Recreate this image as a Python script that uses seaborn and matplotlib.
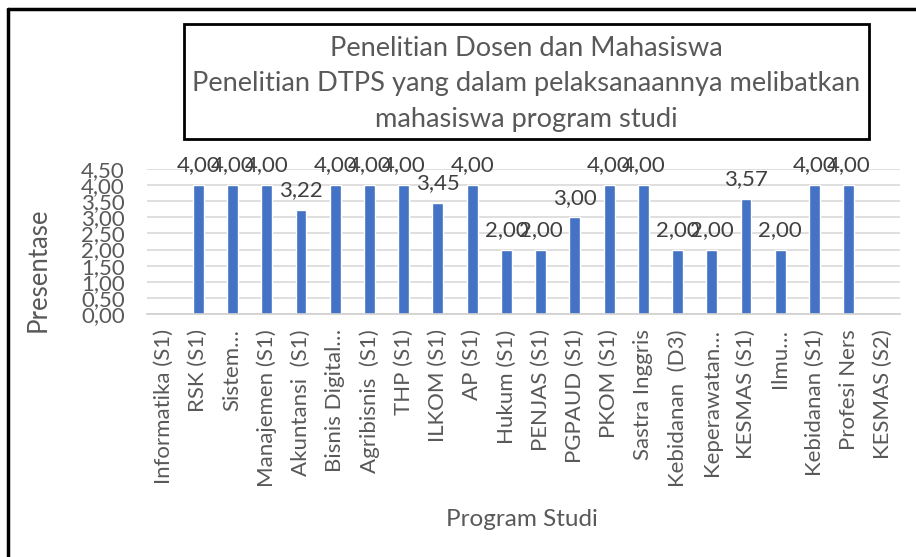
import pandas as pd
import numpy as np
import matplotlib.pyplot as plt
import seaborn as sns
from matplotlib.patches import Rectangle
from matplotlib.lines import Line2D

# data (blank bars = no value)
programs = ['Informatika (S1)', 'RSK (S1)', 'Sistem…', 'Manajemen (S1)', 'Akuntansi  (S1)',
            'Bisnis Digital…', 'Agribisnis  (S1)', 'THP (S1)', 'ILKOM (S1)', 'AP (S1)',
            'Hukum (S1)', 'PENJAS (S1)', 'PGPAUD (S1)', 'PKOM (S1)', 'Sastra Inggris',
            'Kebidanan  (D3)', 'Keperawatan…', 'KESMAS (S1)', 'Ilmu…', 'Kebidanan (S1)',
            'Profesi Ners', 'KESMAS (S2)']
scores = [np.nan, 4.00, 4.00, 4.00, 3.22, 4.00, 4.00, 4.00, 3.45, 4.00, 2.00, 2.00,
          3.00, 4.00, 4.00, 2.00, 2.00, 3.57, 2.00, 4.00, 4.00, np.nan]
yticks = [0, 0.5, 1, 1.5, 2, 2.5, 3, 3.5, 4, 4.5]

title_lines = ['Penelitian Dosen dan Mahasiswa',
               'Penelitian DTPS yang dalam pelaksanaannya melibatkan',
               'mahasiswa program studi']

df = pd.DataFrame({'Program': programs, 'Nilai': scores})

sns.set_style('white')
plt.rcParams['font.family'] = ['Lato', 'DejaVu Sans']
grey = '#595959'

W, H = 916, 557
fig = plt.figure(figsize=(W / 100, H / 100), dpi=100)
ax = fig.add_axes([147 / W, 1 - 314 / H, (900 - 147) / W, (314 - 169) / H])

sns.barplot(data=df, x='Program', y='Nilai', order=programs, color='#4472C4',
            width=0.32, saturation=1, ax=ax)

# value labels above the bars (blank for missing values)
for i, v in enumerate(scores):
    if np.isnan(v):
        continue
    ax.annotate(f'{v:.2f}'.replace('.', ','), (i, v), xytext=(0, 7),
                textcoords='offset points', ha='center', va='bottom',
                fontsize=16, color='#404040', annotation_clip=False)

ax.set_ylim(0, 4.5)
ax.set_yticks(yticks)
ax.set_yticklabels([f'{t:.2f}'.replace('.', ',') for t in yticks])
ax.set_xlim(-0.5, len(programs) - 0.5)
ax.tick_params(axis='y', length=0, pad=16, labelsize=16, labelcolor=grey)
ax.tick_params(axis='x', length=0, pad=11, labelsize=16, labelcolor=grey, rotation=90)
ax.yaxis.grid(True, color='#d9d9d9', lw=1.2)
ax.set_axisbelow(True)
for s in ['top', 'right', 'left']:
    ax.spines[s].set_visible(False)
ax.spines['bottom'].set_color('#d0d0d0')
ax.spines['bottom'].set_linewidth(1.2)
ax.set_xlabel('')
ax.set_ylabel('')

fig.text(38 / W, 1 - 270 / H, 'Presentase', rotation=90, ha='center', va='center',
         fontsize=18.5, color=grey)
fig.text(522 / W, 1 - 520 / H, 'Program Studi', ha='center', va='center',
         fontsize=17.5, color=grey)

# title box
fig.add_artist(Rectangle((184 / W, 1 - 139 / H), (869 - 184) / W, (139 - 24) / H,
                         transform=fig.transFigure, fill=False, ec='black', lw=2))
fig.text(526.5 / W, 1 - 84 / H, '\n'.join(title_lines), ha='center', va='center',
         fontsize=19.6, color=grey, linespacing=1.5)

# outer frame (only left and top edges are visible)
fig.add_artist(Line2D([8 / W, 8 / W], [0, 1 - 9 / H], transform=fig.transFigure,
                      color='black', lw=2.5))
fig.add_artist(Line2D([8 / W, 1], [1 - 9 / H, 1 - 9 / H], transform=fig.transFigure,
                      color='black', lw=2.5))

fig.savefig('out.png', dpi=100)
